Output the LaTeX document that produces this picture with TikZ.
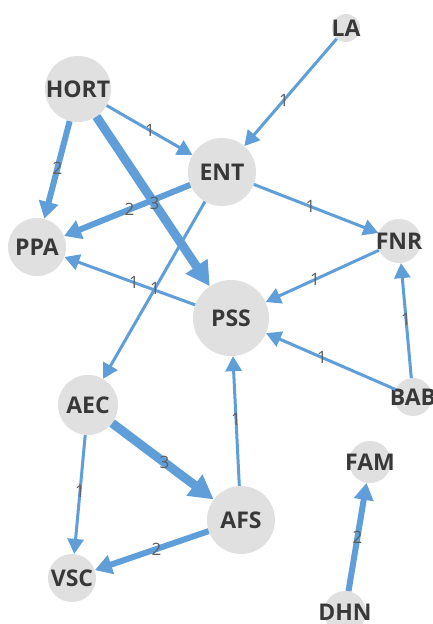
\documentclass[tikz,border=0pt]{standalone}
\usepackage{fontspec}
\setmainfont{Open Sans}
\usetikzlibrary{arrows.meta,calc}
\definecolor{linkblue}{RGB}{95,158,216}
\definecolor{nodegray}{RGB}{224,224,224}
\definecolor{txtgray}{RGB}{56,56,56}
\definecolor{lblgray}{RGB}{95,95,95}

\begin{document}
\begin{tikzpicture}[x=1pt, y=-1pt,
  vtx/.style={circle, fill=nodegray, inner sep=0pt, text=txtgray,
    font=\fontsize{23}{23}\selectfont\bfseries},
  lbl/.style={text=lblgray, inner sep=0pt, font=\fontsize{17}{17}\selectfont},
  w1/.style={draw=linkblue, line width=3pt, -{Triangle[length=15pt,width=16pt]}},
  w2/.style={draw=linkblue, line width=6pt, -{Triangle[length=17pt,width=19pt]}},
  w3/.style={draw=linkblue, line width=9pt, -{Triangle[length=24pt,width=25pt]}}]
\clip (0,0) rectangle (432,624);
\fill[white] (0,0) rectangle (432,624);
\foreach \n/\x/\y/\r in {LA/346/28/14, HORT/78/89/33, ENT/222/172/34, PPA/37/247/29,
  FNR/399/241/22, PSS/231/318/38, BAB/413/397/19, AEC/88/405/30,
  AFS/241/520/34, VSC/72/578/24, FAM/370/462/21, DHN/345/612/21} {
  \node[vtx, minimum size=2*\r] (\n) at (\x,\y) {\makebox[0pt]{\n}};
}
\foreach \s/\t/\w in {LA/ENT/1, HORT/ENT/1, HORT/PPA/2, HORT/PSS/3, ENT/PPA/2,
  ENT/FNR/1, ENT/AEC/1, PSS/PPA/1, FNR/PSS/1, BAB/FNR/1, BAB/PSS/1,
  AFS/PSS/1, AEC/AFS/3, AEC/VSC/1, AFS/VSC/2, DHN/FAM/2} {
  \draw[w\w] (\s) -- (\t);
}
\foreach \s/\t/\w in {LA/ENT/1, HORT/ENT/1, HORT/PPA/2, HORT/PSS/3, ENT/PPA/2,
  ENT/FNR/1, ENT/AEC/1, PSS/PPA/1, FNR/PSS/1, BAB/FNR/1, BAB/PSS/1,
  AFS/PSS/1, AEC/AFS/3, AEC/VSC/1, AFS/VSC/2, DHN/FAM/2} {
  \node[lbl] at ($(\s)!0.5!(\t)$) {\w};
}
\end{tikzpicture}
\end{document}
